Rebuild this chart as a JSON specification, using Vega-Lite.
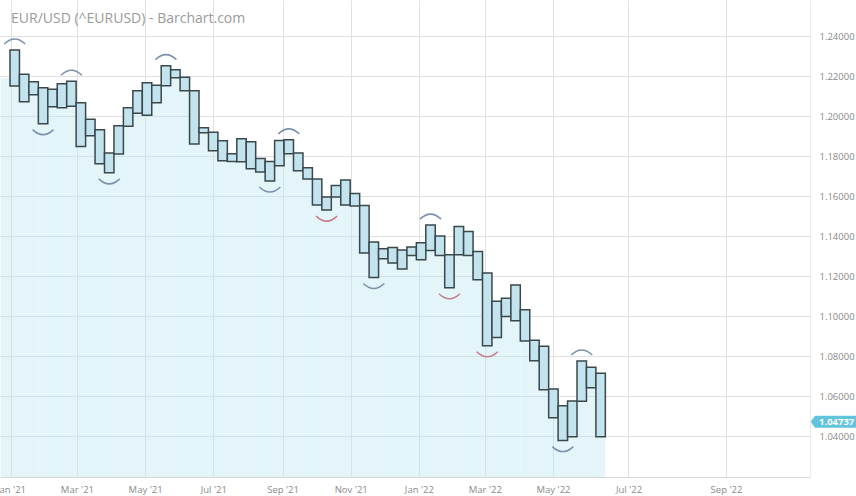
{
  "$schema": "https://vega.github.io/schema/vega-lite/v6.json",
  "width": 810,
  "height": 477,
  "padding": {"left": 0, "top": 0, "right": 46, "bottom": 19},
  "autosize": {"type": "none"},
  "background": "white",
  "config": {"view": {"stroke": null}, "font": "Open Sans"},
  "title": {"text": "EUR/USD (^EURUSD) - Barchart.com", "anchor": "start", "frame": "group", "orient": "top", "offset": -21.5, "dy": 15.5, "baseline": "alphabetic", "dx": 11, "font": "Open Sans", "fontSize": 14, "fontWeight": "normal", "color": "#9a9a9a"},
  "datasets": {
    "bars": [
      {"date": "2020-12-26T21:03Z", "low": 1.219},
      {"date": "2021-01-04T08:00Z", "low": 1.2151, "high": 1.2331, "arc": "high", "arcColor": "blue"},
      {"date": "2021-01-12T18:57Z", "low": 1.2073, "high": 1.2210},
      {"date": "2021-01-21T05:54Z", "low": 1.2107, "high": 1.2173},
      {"date": "2021-01-29T16:51Z", "low": 1.1963, "high": 1.2143, "arc": "low", "arcColor": "blue"},
      {"date": "2021-02-07T03:48Z", "low": 1.2047, "high": 1.2135},
      {"date": "2021-02-15T14:44Z", "low": 1.2042, "high": 1.2163},
      {"date": "2021-02-24T01:42Z", "low": 1.2050, "high": 1.2175, "arc": "high", "arcColor": "blue"},
      {"date": "2021-03-04T12:38Z", "low": 1.1849, "high": 1.2067},
      {"date": "2021-03-12T23:35Z", "low": 1.1902, "high": 1.1985},
      {"date": "2021-03-21T10:32Z", "low": 1.1762, "high": 1.1933},
      {"date": "2021-03-29T21:29Z", "low": 1.1717, "high": 1.1816, "arc": "low", "arcColor": "blue"},
      {"date": "2021-04-07T08:26Z", "low": 1.1811, "high": 1.1952},
      {"date": "2021-04-15T19:23Z", "low": 1.1950, "high": 1.2042},
      {"date": "2021-04-24T06:20Z", "low": 1.2015, "high": 1.2127},
      {"date": "2021-05-02T17:17Z", "low": 1.2005, "high": 1.2168},
      {"date": "2021-05-11T04:14Z", "low": 1.2067, "high": 1.2155},
      {"date": "2021-05-19T15:11Z", "low": 1.2152, "high": 1.2253, "arc": "high", "arcColor": "blue"},
      {"date": "2021-05-28T02:08Z", "low": 1.2193, "high": 1.2232},
      {"date": "2021-06-05T13:05Z", "low": 1.2127, "high": 1.2195},
      {"date": "2021-06-14T00:02Z", "low": 1.1861, "high": 1.2128},
      {"date": "2021-06-22T10:58Z", "low": 1.1918, "high": 1.1943},
      {"date": "2021-06-30T21:55Z", "low": 1.1827, "high": 1.1920},
      {"date": "2021-07-09T08:52Z", "low": 1.1777, "high": 1.1877},
      {"date": "2021-07-17T19:49Z", "low": 1.1774, "high": 1.1812},
      {"date": "2021-07-26T06:46Z", "low": 1.1772, "high": 1.1888},
      {"date": "2021-08-03T17:43Z", "low": 1.1737, "high": 1.1872},
      {"date": "2021-08-12T04:40Z", "low": 1.1721, "high": 1.1789},
      {"date": "2021-08-20T15:37Z", "low": 1.1676, "high": 1.1774, "arc": "low", "arcColor": "blue"},
      {"date": "2021-08-29T02:34Z", "low": 1.1752, "high": 1.1879},
      {"date": "2021-09-06T13:31Z", "low": 1.1812, "high": 1.1882, "arc": "high", "arcColor": "blue"},
      {"date": "2021-09-15T00:28Z", "low": 1.1727, "high": 1.1816},
      {"date": "2021-09-23T11:25Z", "low": 1.1686, "high": 1.1742},
      {"date": "2021-10-01T22:22Z", "low": 1.1556, "high": 1.1686},
      {"date": "2021-10-10T09:18Z", "low": 1.1531, "high": 1.1596, "arc": "low", "arcColor": "red"},
      {"date": "2021-10-18T20:15Z", "low": 1.1597, "high": 1.1654},
      {"date": "2021-10-27T07:12Z", "low": 1.1556, "high": 1.1682},
      {"date": "2021-11-04T18:09Z", "low": 1.1552, "high": 1.1614},
      {"date": "2021-11-13T05:06Z", "low": 1.1316, "high": 1.1554},
      {"date": "2021-11-21T16:03Z", "low": 1.1194, "high": 1.1372, "arc": "low", "arcColor": "blue"},
      {"date": "2021-11-30T03:00Z", "low": 1.1288, "high": 1.1338},
      {"date": "2021-12-08T13:57Z", "low": 1.1266, "high": 1.1344},
      {"date": "2021-12-17T00:54Z", "low": 1.1236, "high": 1.1331},
      {"date": "2021-12-25T11:51Z", "low": 1.1304, "high": 1.1346},
      {"date": "2022-01-02T22:48Z", "low": 1.1283, "high": 1.1368},
      {"date": "2022-01-11T09:45Z", "low": 1.1329, "high": 1.1456, "arc": "high", "arcColor": "blue"},
      {"date": "2022-01-19T20:41Z", "low": 1.1304, "high": 1.1402},
      {"date": "2022-01-28T07:38Z", "low": 1.1143, "high": 1.1308, "arc": "low", "arcColor": "red"},
      {"date": "2022-02-05T18:35Z", "low": 1.1308, "high": 1.1449},
      {"date": "2022-02-14T05:32Z", "low": 1.1304, "high": 1.1424},
      {"date": "2022-02-22T16:29Z", "low": 1.1183, "high": 1.1324},
      {"date": "2022-03-03T03:26Z", "low": 1.0853, "high": 1.1216, "arc": "low", "arcColor": "red"},
      {"date": "2022-03-11T14:23Z", "low": 1.0894, "high": 1.1076},
      {"date": "2022-03-20T01:20Z", "low": 1.0999, "high": 1.1091},
      {"date": "2022-03-28T12:17Z", "low": 1.0978, "high": 1.1156},
      {"date": "2022-04-05T23:14Z", "low": 1.0877, "high": 1.1033},
      {"date": "2022-04-14T10:11Z", "low": 1.0778, "high": 1.0881},
      {"date": "2022-04-22T21:08Z", "low": 1.0633, "high": 1.0851},
      {"date": "2022-05-01T08:05Z", "low": 1.0493, "high": 1.0637},
      {"date": "2022-05-09T19:02Z", "low": 1.0379, "high": 1.0553, "arc": "low", "arcColor": "blue"},
      {"date": "2022-05-18T05:59Z", "low": 1.0398, "high": 1.0577},
      {"date": "2022-05-26T16:56Z", "low": 1.0575, "high": 1.0777, "arc": "high", "arcColor": "blue"},
      {"date": "2022-06-04T03:53Z", "low": 1.0643, "high": 1.0745},
      {"date": "2022-06-12T14:50Z", "low": 1.0398, "high": 1.0715}
    ],
    "tag": [{"price": 1.04737}]
  },
  "data": {"name": "bars", "format": {"parse": {"date": "date"}}},
  "encoding": {
    "x": {
      "field": "date", "type": "quantitative",
      "scale": {"type": "linear", "domain": [1608608764800, 1655251200000, 1661990400000, 1666604160000], "range": [0, 603.3, 726, 810], "nice": false, "zero": false, "padding": 0},
      "axis": {
        "values": [1609459200000, 1614556800000, 1619827200000, 1625097600000, 1630454400000, 1635724800000, 1640995200000, 1646092800000, 1651363200000, 1656633600000, 1661990400000],
        "labelExpr": "utcFormat(datum.value, \"%b '%y\")", "labelFont": "Open Sans", "labelFontSize": 9.5, "labelColor": "#8a8a8a",
        "ticks": false, "labelPadding": 7, "grid": true, "gridColor": "#e0e0e0", "gridWidth": 1,
        "domainColor": "#d6d6d6", "title": null, "labelFlush": false, "labelOverlap": false
      }
    }
  },
  "layer": [
    {
      "mark": {"type": "bar", "width": 9.45, "fill": "#bfe8f4", "opacity": 0.42, "strokeWidth": 0},
      "encoding": {
        "y": {
          "field": "low", "type": "quantitative",
          "scale": {"domain": [1.0197, 1.2581], "zero": false, "nice": false},
          "axis": {
            "orient": "right", "values": [1.04, 1.06, 1.08, 1.1, 1.12, 1.14, 1.16, 1.18, 1.2, 1.22, 1.24],
            "format": ".5f", "labelFont": "Open Sans", "labelFontSize": 9.5, "labelColor": "#8a8a8a",
            "ticks": false, "labelPadding": 9, "grid": true, "gridColor": "#e0e0e0", "gridWidth": 1,
            "domainColor": "#ececec", "title": null
          }
        },
        "y2": {"datum": 1.0197}
      }
    },
    {
      "transform": [{"filter": "isValid(datum.high)"}],
      "mark": {"type": "bar", "width": 9.45, "fill": "#c3e4ee", "stroke": "#3a474b", "strokeWidth": 1.5},
      "encoding": {
        "y": {"field": "low", "type": "quantitative"},
        "y2": {"field": "high"}
      }
    },
    {
      "transform": [{"filter": "datum.arc == 'high'"}],
      "mark": {"type": "point", "shape": "M-10.5,2.5Q0,-7.5,10.5,2.5", "size": 4, "filled": false, "strokeWidth": 1.5, "opacity": 1, "yOffset": -8.5},
      "encoding": {
        "y": {"field": "high", "type": "quantitative"},
        "color": {"field": "arcColor", "type": "nominal", "scale": {"domain": ["blue", "red"], "range": ["#7c91ad", "#c67e88"]}, "legend": null}
      }
    },
    {
      "transform": [{"filter": "datum.arc == 'low'"}],
      "mark": {"type": "point", "shape": "M-10.5,-2.5Q0,7.5,10.5,-2.5", "size": 4, "filled": false, "strokeWidth": 1.5, "opacity": 1, "yOffset": 8.5},
      "encoding": {
        "y": {"field": "low", "type": "quantitative"},
        "color": {"field": "arcColor", "type": "nominal", "scale": {"domain": ["blue", "red"], "range": ["#7c91ad", "#c67e88"]}, "legend": null}
      }
    },
    {
      "data": {"name": "tag"},
      "mark": {"type": "point", "shape": "M0.7,0L5,-6L46,-6L46,6L5,6Z", "size": 4, "filled": true, "fill": "#62c5dd", "strokeWidth": 0, "opacity": 1},
      "encoding": {
        "x": {"value": "width"},
        "y": {"field": "price", "type": "quantitative"}
      }
    },
    {
      "data": {"name": "tag"},
      "mark": {"type": "text", "align": "left", "baseline": "middle", "dx": 9, "fill": "white", "fontWeight": "bold", "fontSize": 9.5, "font": "Open Sans"},
      "encoding": {
        "x": {"value": "width"},
        "y": {"field": "price", "type": "quantitative"},
        "text": {"field": "price", "type": "quantitative", "format": ".5f"}
      }
    }
  ]
}
